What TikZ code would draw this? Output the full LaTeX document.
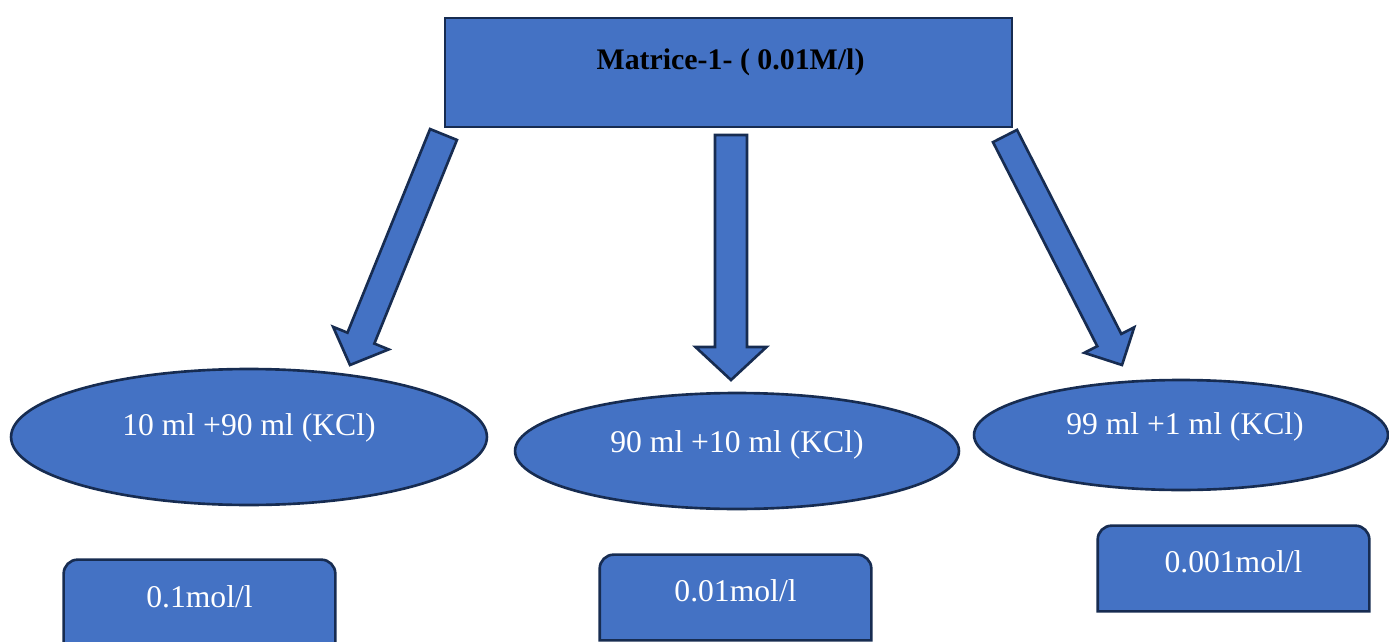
\documentclass[tikz,border=0pt]{standalone}
\usepackage{fontspec}
\setmainfont{Liberation Serif}
\usepackage{tikz}
\usetikzlibrary{shapes.geometric,calc}

\definecolor{boxblue}{HTML}{4472C4}
\definecolor{edgeblue}{HTML}{172C51}

% block arrow: tail, tip, shaft half width, head half width, head length
\newcommand{\blockarrow}[5]{%
  \coordinate (#1h) at ($(#2)!#5!(#1)$);
  \draw[blkarrow] ($(#1)!#3!90:(#2)$) -- ($(#1h)!#3!90:(#2)$) -- ($(#1h)!#4!90:(#2)$) -- (#2)
    -- ($(#1h)!#4!-90:(#2)$) -- ($(#1h)!#3!-90:(#2)$) -- ($(#1)!#3!-90:(#2)$) -- cycle;
}

\begin{document}
\begin{tikzpicture}[x=0.02cm, y=-0.02cm,
    shapebox/.style={draw=edgeblue, fill=boxblue, line width=1.5pt},
    blkarrow/.style={draw=edgeblue, fill=boxblue, line width=1.5pt, line join=miter},
    lbl/.style={text=white, font=\fontsize{18}{22}\selectfont, inner sep=0pt},
    ttl/.style={font=\fontsize{17}{20}\selectfont\bfseries, inner sep=0pt}]
    \clip (0,0) rectangle (1389,642);

    % Matrix box
    \node[shapebox, rectangle, minimum width=11.34cm, minimum height=2.18cm] (top) at (728.5,72.5) {};
    \node[ttl] (toptxt) at ([xshift=0.04cm, yshift=0.2cm]top.center) {Matrice-1- ( 0.01M/l)};

    % Dilutions
    \node[shapebox, ellipse, inner sep=0pt, minimum width=9.52cm, minimum height=2.72cm] (e1) at (249,437) {};
    \node[shapebox, ellipse, inner sep=0pt, minimum width=8.88cm, minimum height=2.32cm] (e2) at (737,451) {};
    \node[shapebox, ellipse, inner sep=0pt, minimum width=8.28cm, minimum height=2.2cm] (e3) at (1181,435) {};
    \node[lbl] (t1) at ([yshift=0.18cm]e1.center) {10 ml +90 ml (KCl)};
    \node[lbl] (t2) at ([yshift=0.12cm]e2.center) {90 ml +10 ml (KCl)};
    \node[lbl] (t3) at ([xshift=0.08cm, yshift=0.16cm]e3.center) {99 ml +1 ml (KCl)};

    % Concentrations
    \node[rectangle, minimum width=5.42cm, minimum height=1.7cm] (c1) at (199.5,602.5) {};
    \node[rectangle, minimum width=5.42cm, minimum height=1.7cm] (c2) at (735.5,597.5) {};
    \node[rectangle, minimum width=5.42cm, minimum height=1.7cm] (c3) at (1233.5,568.5) {};
    \foreach \c in {c1,c2,c3}
      \draw[shapebox] (\c.south west) [rounded corners=0.28cm] -- (\c.north west) -- (\c.north east)
        [sharp corners] -- (\c.south east) -- cycle;
    \node[lbl] (k1) at ([yshift=-0.74cm]c1.north) {0.1mol/l};
    \node[lbl] (k2) at ([yshift=-0.72cm]c2.north) {0.01mol/l};
    \node[lbl] (k3) at ([yshift=-0.72cm]c3.north) {0.001mol/l};

    % Arrows
    \coordinate (a1) at (443.5,134.5);
    \coordinate (a1p) at (350,365);
    \coordinate (a2) at (731,135);
    \coordinate (a2p) at (731,380);
    \coordinate (a3) at (1005,136);
    \coordinate (a3p) at (1122,365);
    \blockarrow{a1}{a1p}{0.29cm}{0.6cm}{0.58cm}
    \blockarrow{a2}{a2p}{0.32cm}{0.71cm}{0.66cm}
    \blockarrow{a3}{a3p}{0.27cm}{0.56cm}{0.56cm}
\end{tikzpicture}
\end{document}
